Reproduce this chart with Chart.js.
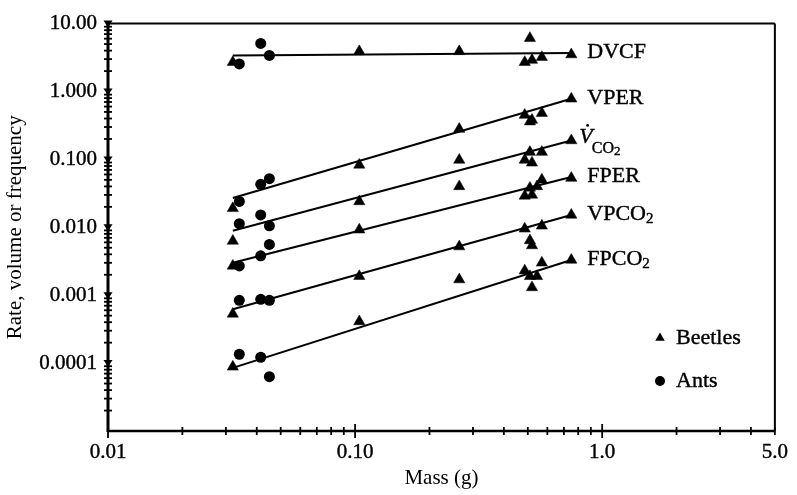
<!DOCTYPE html>
<html>
<head>
<meta charset="utf-8">
<script src="https://cdn.jsdelivr.net/npm/chart.js@4.4.0/dist/chart.umd.min.js"></script>
<style>
	body { margin: 0; background: #fff; }
	#wrap { width: 797px; height: 495px; }
</style>
</head>
<body>
<div id="wrap"><canvas id="myChart" width="797" height="495"></canvas></div>
<script>
// masses (g)
var beetleMass = [0.032, 0.104, 0.264, 0.486, 0.51, 0.52, 0.545, 0.57, 0.75];
var antMass = [0.034, 0.0415, 0.045];
var fitMass = [0.032, 0.75];

var seriesLabels = ['DVCF', 'VPER', 'VCO2', 'FPER', 'VPCO2', 'FPCO2'];

// beetles, one value per beetleMass entry
var dvcfBeetles  = [2.7, 3.9, 3.9, 2.7, 6.1, 2.9, null, 3.2, 3.5];
var vperBeetles  = [0.019, 0.083, 0.28, 0.45, 0.36, 0.38, null, 0.48, 0.78];
var vco2Beetles  = [0.0063, 0.024, 0.098, 0.098, 0.128, 0.089, null, 0.128, 0.19];
var fperBeetles  = [0.0027, 0.0092, 0.040, 0.029, 0.038, 0.030, 0.040, 0.050, 0.053];
var vpco2Beetles = [0.00053, 0.0019, 0.0052, 0.0095, 0.0064, 0.0054, null, 0.0105, 0.0152];
var fpco2Beetles = [0.000088, 0.00041, 0.0017, 0.0023, 0.0019, 0.0013, 0.0019, 0.0030, 0.0033];

// ants, one value per antMass entry
var dvcfAnts  = [2.55, 5.1, 3.4];
var vperAnts  = [0.024, 0.043, 0.052];
var vco2Ants  = [0.0113, 0.0152, 0.0105];
var fperAnts  = [0.0027, 0.0038, 0.0056];
var vpco2Ants = [0.00084, 0.00087, 0.00084];
var fpco2Ants = [0.000135, 0.000122, 0.000063];

// fitted lines, values at fitMass
var dvcfFit  = [3.4, 3.7];
var vperFit  = [0.027, 0.78];
var vco2Fit  = [0.0089, 0.19];
var fperFit  = [0.0030, 0.055];
var vpco2Fit = [0.00062, 0.0152];
var fpco2Fit = [0.000085, 0.0033];

var xTickValues = [0.01, 0.1, 1, 5];
var xTickLabels = ['0.01', '0.10', '1.0', '5.0'];
var yTickValues = [0.0001, 0.001, 0.01, 0.1, 1, 10];
var yTickLabels = ['0.0001', '0.001', '0.010', '0.100', '1.000', '10.00'];

var beetleSets = [dvcfBeetles, vperBeetles, vco2Beetles, fperBeetles, vpco2Beetles, fpco2Beetles];
var antSets = [dvcfAnts, vperAnts, vco2Ants, fperAnts, vpco2Ants, fpco2Ants];
var fitSets = [dvcfFit, vperFit, vco2Fit, fperFit, vpco2Fit, fpco2Fit];

var SERIF = "'Liberation Serif', 'Times New Roman', serif";

function pairs(xs, ys)
{
	var out = [];
	for (var i = 0; i < xs.length; i++) {
		if (ys[i] !== null) out.push({x: xs[i], y: ys[i]});
	}
	return out;
}

var datasets = [];
for (var s = 0; s < seriesLabels.length; s++) {
	datasets.push({
		label: seriesLabels[s] + ' fit',
		data: pairs(fitMass, fitSets[s]),
		showLine: true,
		borderColor: '#000',
		borderWidth: 2,
		pointRadius: 0
	});
	datasets.push({
		label: seriesLabels[s] + ' beetles',
		data: pairs(beetleMass, beetleSets[s]),
		pointStyle: 'triangle',
		pointRadius: 6.5,
		backgroundColor: '#000',
		borderColor: '#000',
		borderWidth: 0.5
	});
	datasets.push({
		label: seriesLabels[s] + ' ants',
		data: pairs(antMass, antSets[s]),
		pointStyle: 'circle',
		pointRadius: 5.5,
		backgroundColor: '#000',
		borderColor: '#000',
		borderWidth: 0
	});
}

function heavyText(ctx, txt, x, y)
{
	ctx.fillText(txt, x, y);
	ctx.strokeText(txt, x, y);
}

// axis lines, frame, tick marks, end labels and key
var decorPlugin = {
	id: 'decor',
	afterDraw: function(chart) {
		var ctx = chart.ctx;
		var a = chart.chartArea;
		var xs = chart.scales.x, ys = chart.scales.y;
		ctx.save();
		ctx.strokeStyle = '#000';
		ctx.fillStyle = '#000';

		// frame
		ctx.lineWidth = 2;
		ctx.beginPath();
		ctx.moveTo(a.left, a.top); ctx.lineTo(a.right, a.top);
		ctx.moveTo(a.right, a.top); ctx.lineTo(a.right, a.bottom);
		ctx.stroke();
		ctx.lineWidth = 3;
		ctx.beginPath();
		ctx.moveTo(a.left, a.top - 1); ctx.lineTo(a.left, a.bottom + 1);
		ctx.stroke();
		ctx.lineWidth = 2.5;
		ctx.beginPath();
		ctx.moveTo(a.left - 1, a.bottom); ctx.lineTo(a.right, a.bottom);
		ctx.stroke();

		// y ticks
		ctx.lineWidth = 1.8;
		for (var d = -5; d < 1; d++) {
			for (var m = 2; m <= 9; m++) {
				var py = ys.getPixelForValue(m * Math.pow(10, d));
				ctx.beginPath();
				ctx.moveTo(a.left - 4, py); ctx.lineTo(a.left + 4, py);
				ctx.stroke();
			}
		}
		yTickValues.forEach(function(v) {
			var py = ys.getPixelForValue(v);
			ctx.beginPath();
			ctx.moveTo(a.left - 4.5, py - 3);
			ctx.lineTo(a.left + 4.5, py - 3);
			ctx.lineTo(a.left, py + 4);
			ctx.closePath();
			ctx.fill();
		});

		// x ticks
		for (var d2 = -2; d2 <= 0; d2++) {
			for (var m2 = 1; m2 <= 9; m2++) {
				var v = m2 * Math.pow(10, d2);
				if (v > 5) break;
				var px = xs.getPixelForValue(v);
				var len = (m2 === 1) ? 7 : 4;
				ctx.beginPath();
				ctx.moveTo(px, a.bottom - len); ctx.lineTo(px, a.bottom + len);
				ctx.stroke();
			}
		}

		// series names at line ends
		ctx.textBaseline = 'middle';
		ctx.textAlign = 'left';
		ctx.lineWidth = 0.4;
		for (var s = 0; s < seriesLabels.length; s++) {
			var fit = fitSets[s];
			var ex = xs.getPixelForValue(fitMass[fitMass.length - 1]);
			var ey = ys.getPixelForValue(fit[fit.length - 1]) - 1;
			var name = seriesLabels[s];
			var tx = ex + 16;
			if (name === 'VCO2') {
				tx = ex + 8;
				ctx.font = 'italic 22px ' + SERIF;
				heavyText(ctx, 'V', tx, ey - 2);
				var vw = ctx.measureText('V').width;
				ctx.beginPath();
				ctx.arc(tx + vw * 0.62, ey - 14, 1.4, 0, Math.PI * 2);
				ctx.fill();
				ctx.font = '16px ' + SERIF;
				heavyText(ctx, 'CO', tx + vw - 1, ey + 9);
				var cw = ctx.measureText('CO').width;
				ctx.font = '13px ' + SERIF;
				heavyText(ctx, '2', tx + vw - 1 + cw, ey + 12);
			} else if (name.charAt(name.length - 1) === '2') {
				var base = name.slice(0, -1);
				ctx.font = '22px ' + SERIF;
				heavyText(ctx, base, tx, ey);
				var bw = ctx.measureText(base).width;
				ctx.font = '15px ' + SERIF;
				heavyText(ctx, '2', tx + bw, ey + 5);
			} else {
				ctx.font = '22px ' + SERIF;
				heavyText(ctx, name, tx, ey);
			}
		}

		// key
		var kx = 660, ky1 = 338, ky2 = 381;
		var r = 5.5;
		ctx.beginPath();
		ctx.moveTo(kx, ky1 - r);
		ctx.lineTo(kx + r * 0.866, ky1 + r / 2);
		ctx.lineTo(kx - r * 0.866, ky1 + r / 2);
		ctx.closePath();
		ctx.fill();
		ctx.beginPath();
		ctx.arc(kx, ky2, 5, 0, Math.PI * 2);
		ctx.fill();
		ctx.font = '22px ' + SERIF;
		heavyText(ctx, 'Beetles', kx + 16, ky1);
		heavyText(ctx, 'Ants', kx + 16, ky2);
		ctx.restore();
	}
};

var ctx = document.getElementById('myChart').getContext('2d');
var myChart = new Chart(ctx, {
	type: 'scatter',
	data: { datasets: datasets },
	options: {
		responsive: false,
		animation: false,
		layout: { padding: { top: 16, right: 19, left: 0, bottom: 0 } },
		plugins: {
			legend: { display: false },
			tooltip: { enabled: false }
		},
		scales: {
			x: {
				type: 'logarithmic',
				min: 0.01,
				max: 5,
				grid: { display: false, drawTicks: false },
				border: { display: false },
				afterBuildTicks: function(scale) {
					scale.ticks = xTickValues.map(function(v) { return {value: v}; });
				},
				afterFit: function(scale) { scale.height = 64; },
				ticks: {
					autoSkip: false,
					maxRotation: 0,
					padding: 9,
					color: '#000',
					textStrokeColor: '#000',
					textStrokeWidth: 0.4,
					font: { family: SERIF, size: 21 },
					callback: function(v) {
						var i = xTickValues.indexOf(v);
						return i >= 0 ? xTickLabels[i] : '';
					}
				},
				title: {
					display: true,
					text: 'Mass (g)',
					color: '#000',
					font: { family: SERIF, size: 21 },
					padding: { top: 0, bottom: 4 }
				}
			},
			y: {
				type: 'logarithmic',
				min: 0.00001,
				max: 10,
				grid: { display: false, drawTicks: false },
				border: { display: false },
				afterBuildTicks: function(scale) {
					scale.ticks = yTickValues.map(function(v) { return {value: v}; });
				},
				afterFit: function(scale) { scale.width = 108; },
				ticks: {
					autoSkip: false,
					padding: 11,
					color: '#000',
					textStrokeColor: '#000',
					textStrokeWidth: 0.4,
					font: { family: SERIF, size: 21 },
					callback: function(v) {
						var i = yTickValues.indexOf(v);
						return i >= 0 ? yTickLabels[i] : '';
					}
				},
				title: {
					display: true,
					text: 'Rate, volume or frequency',
					color: '#000',
					font: { family: SERIF, size: 21 },
					padding: { top: 3, bottom: 0 }
				}
			}
		}
	},
	plugins: [decorPlugin]
});
</script>
</body>
</html>
